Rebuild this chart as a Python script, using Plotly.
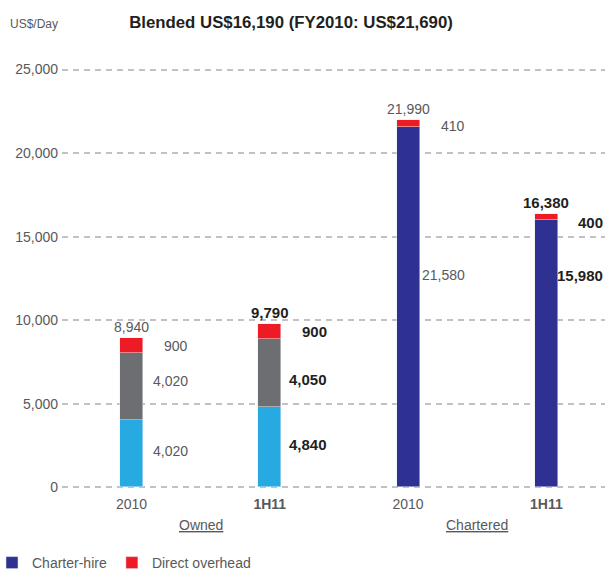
import plotly.graph_objects as go

# ---- data ----
categories = ["2010", "1H11", "2010", "1H11"]
groups = ["Owned", "Chartered"]
owned_base = [4020, 4840, 0, 0]        # light blue
owned_mid = [4020, 4050, 0, 0]         # grey
charter_hire = [0, 0, 21580, 15980]    # navy
direct_overhead = [900, 900, 410, 400] # red
totals = [8940, 9790, 21990, 16380]
bold_cat = [False, True, False, True]

# label vertical positions (data units) for the right-hand value labels
lbl_overhead_y = [8490, 9330, 21650, 15850]
lbl_mid_y = [6340, 6460, None, None]
lbl_base_y = [2210, 2570, 12680, 12680]

xs = list(range(len(categories)))
BLUE = "#27aae1"
GREY = "#6d6e71"
NAVY = "#2e3192"
RED = "#ed1c24"
FONT = "Liberation Sans, Arial, sans-serif"
TXT_REG = "#58595b"
TXT_BOLD = "#231f20"
BW = 0.166

# plot area geometry (pixels)
L, R, T, B = 62, 2, 67, 80
PW = 607 - L - R
PH = 570 - T - B
YPAD = 150  # small range padding so edge gridlines are drawn

fig = go.Figure()
fig.add_bar(x=xs, y=owned_base, marker_color=BLUE, width=BW, showlegend=False, hoverinfo="skip")
fig.add_bar(x=xs, y=owned_mid, marker_color=GREY, width=BW, showlegend=False, hoverinfo="skip")
fig.add_bar(x=xs, y=charter_hire, marker_color=NAVY, width=BW, name="Charter-hire")
fig.add_bar(x=xs, y=direct_overhead, marker_color=RED, width=BW, name="Direct overhead")

def fmt(v):
    return f"{v:,}"

def lab(v, b):
    return f"<b>{fmt(v)}</b>" if b else fmt(v)

anns = []
for i in xs:
    b = bold_cat[i]
    col = TXT_BOLD if b else TXT_REG
    size = 15 if b else 14
    anns.append(dict(x=i, y=totals[i], text=lab(totals[i], b), showarrow=False,
                     xanchor="center", yanchor="bottom", yshift=1,
                     font=dict(family=FONT, size=size, color=col)))
    items = [(direct_overhead[i], lbl_overhead_y[i])]
    if owned_mid[i]:
        items.append((owned_mid[i], lbl_mid_y[i]))
    base_val = owned_base[i] if owned_base[i] else charter_hire[i]
    items.append((base_val, lbl_base_y[i]))
    for v, yy in items:
        anns.append(dict(x=i, y=yy, text=lab(v, b), showarrow=False,
                         xanchor="right", yanchor="middle", xshift=59,
                         font=dict(family=FONT, size=size, color=col)))

def px_to_paper(xp, yp):
    return (xp - L) / PW, (570 - B - yp) / PH

for gi, g in enumerate(groups):
    anns.append(dict(x=gi * 2 + 0.5, y=px_to_paper(0, 525)[1], yref="paper", text=f"<u>{g}</u>",
                     showarrow=False, xanchor="center", yanchor="middle",
                     font=dict(family=FONT, size=14, color=TXT_REG)))

ux, uy = px_to_paper(8, 24)
anns.append(dict(x=ux, y=uy, xref="paper", yref="paper",
                 text="US$/Day", showarrow=False, xanchor="left", yanchor="middle",
                 font=dict(family=FONT, size=12, color=TXT_REG)))

ticktext = [f"<b>{c}</b>" if bb else c for c, bb in zip(categories, bold_cat)]

lx, ly = px_to_paper(-8, 563)

fig.update_layout(
    width=607, height=570,
    margin=dict(l=L, r=R, t=T, b=B, autoexpand=False),
    barmode="stack",
    bargap=0,
    plot_bgcolor="white", paper_bgcolor="white",
    font=dict(family=FONT, size=14, color=TXT_REG),
    title=dict(text="<b>Blended US$16,190 (FY2010: US$21,690)</b>",
               xref="container", yref="container",
               x=291 / 607, xanchor="center", y=1 - 22 / 570, yanchor="middle",
               font=dict(family=FONT, size=16.8, color=TXT_BOLD)),
    xaxis=dict(tickmode="array", tickvals=xs, ticktext=ticktext,
               range=[-0.5025, 3.424], showgrid=False, zeroline=False,
               showline=False, ticks="", ticklabelstandoff=4,
               tickfont=dict(family=FONT, size=14, color=TXT_REG)),
    yaxis=dict(range=[-YPAD, 25000 + YPAD], tickvals=[0, 5000, 10000, 15000, 20000, 25000],
               tickformat=",", showgrid=True, gridcolor="#c2c2c4", gridwidth=1.5,
               griddash="6px,5px", zeroline=False, showline=False, ticks="",
               ticklabelstandoff=3,
               tickfont=dict(family=FONT, size=14, color=TXT_REG)),
    legend=dict(orientation="h", x=lx, y=ly,
                xanchor="left", yanchor="middle",
                font=dict(family=FONT, size=14, color=TXT_REG),
                traceorder="normal"),
    annotations=anns,
)

fig.write_html("out.html", config={"displayModeBar": False},
               post_script="document.body.style.margin='0';")
